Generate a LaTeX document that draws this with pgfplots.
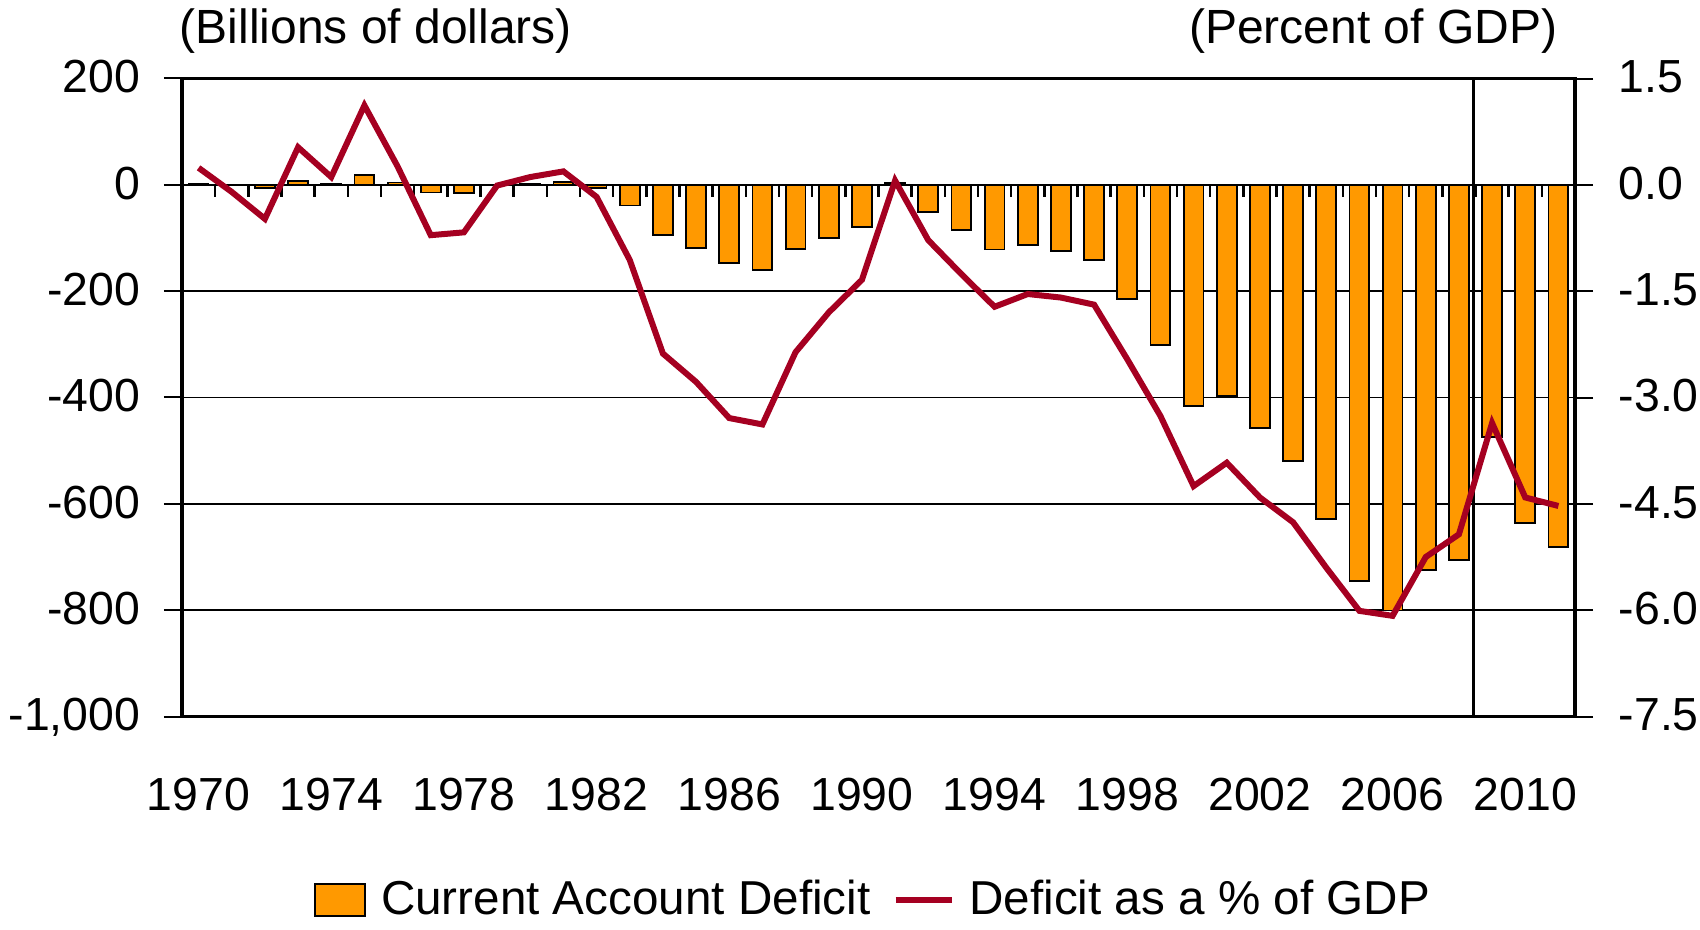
\documentclass[border=0pt]{standalone}
\usepackage{fontspec}
\setmainfont{Liberation Sans}
\usepackage{pgfplots}
\usepackage{pgfplotstable}
\pgfplotsset{compat=1.18}
\definecolor{barorange}{HTML}{FF9900}
\definecolor{linered}{HTML}{A50021}
\newcommand\cf{\fontsize{11.6pt}{14pt}\selectfont}
\newcommand\tf{\fontsize{12pt}{14pt}\selectfont}

\pgfplotsset{
  barleg/.style={legend image code/.code={\draw[##1] (0pt,-4pt) rectangle (12.5pt,4pt);}},
  lineleg/.style={legend image code/.code={\draw[##1] (0pt,0pt) -- (14pt,0pt);}},
  common/.style={
    scale only axis,
    width=348.25pt, height=159.5pt,
    xmin=1969.5, xmax=2011.5,
    axis line style={line width=0.8pt},
    tick align=outside,
    major tick length=4.5pt,
    tick style={black, line width=0.5pt},
  },
}

% current account balance, billions of dollars
\pgfplotstableread{
year value
1970 2.3
1971 -1.4
1972 -5.8
1973 7.1
1974 2.0
1975 18.1
1976 4.3
1977 -14.3
1978 -15.1
1979 -0.3
1980 2.3
1981 5.0
1982 -5.5
1983 -38.7
1984 -94.3
1985 -118.2
1986 -147.2
1987 -160.7
1988 -121.2
1989 -99.5
1990 -79.0
1991 2.9
1992 -51.6
1993 -84.8
1994 -121.6
1995 -113.6
1996 -124.8
1997 -140.7
1998 -215.1
1999 -301.6
2000 -416.3
2001 -396.6
2002 -457.8
2003 -519.1
2004 -628.8
2005 -745.4
2006 -800.6
2007 -724
2008 -705
2009 -474.5
2010 -636
2011 -681
}\cadata

% balance as percent of GDP
\pgfplotstableread{
year pct
1970 0.24
1971 -0.10
1972 -0.48
1973 0.53
1974 0.11
1975 1.12
1976 0.26
1977 -0.71
1978 -0.67
1979 -0.01
1980 0.11
1981 0.19
1982 -0.17
1983 -1.06
1984 -2.38
1985 -2.78
1986 -3.29
1987 -3.38
1988 -2.36
1989 -1.80
1990 -1.34
1991 0.06
1992 -0.78
1993 -1.26
1994 -1.72
1995 -1.54
1996 -1.59
1997 -1.69
1998 -2.46
1999 -3.26
2000 -4.25
2001 -3.92
2002 -4.41
2003 -4.76
2004 -5.40
2005 -6.01
2006 -6.08
2007 -5.25
2008 -4.93
2009 -3.36
2010 -4.41
2011 -4.53
}\pctdata

\begin{document}
\begin{tikzpicture}
\begin{axis}[
  common,
  clip=false,
  ymin=-1000, ymax=200,
  xtick={1970,1974,...,2010},
  xticklabels={1970,1974,1978,1982,1986,1990,1994,1998,2002,2006,2010},
  xtick style={draw=none},
  xtick pos=bottom,
  ytick={-1000,-800,...,200},
  yticklabels={-1{,}000,-800,-600,-400,-200,0,200},
  ytick pos=left,
  ymajorgrids,
  major grid style={black, line width=0.35pt},
  yticklabel style={anchor=east, inner sep=0pt, text height=0.72em, text depth=0pt, font=\cf, xshift=-5.75pt},
  xticklabel style={anchor=north, inner sep=0pt, text height=0.72em, text depth=0pt, font=\cf, yshift=-11.6pt},
]
\addplot[ybar, bar width=0.6, bar shift=0pt, fill=barorange, draw=black, line width=0.45pt]
  table[x=year, y=value] {\cadata};
% year boundary ticks on the zero line
\pgfplotsinvokeforeach{1970,...,2010}{
  \draw[black, line width=0.6pt] (axis cs:#1.5,0) -- ([yshift=-3pt]axis cs:#1.5,0);
}
\draw[black, line width=0.7pt] (axis cs:2008.45,-1000) -- (axis cs:2008.45,200);
\node[font=\tf, anchor=base west, inner sep=0pt] at ([xshift=-0.75pt, yshift=8.7pt]rel axis cs:0,1) {(Billions of dollars)};
\node[font=\tf, anchor=base east, inner sep=0pt] at ([xshift=-4.25pt, yshift=8.7pt]rel axis cs:1,1) {(Percent of GDP)};
\end{axis}

\begin{axis}[
  common,
  ymin=-7.5, ymax=1.5,
  axis x line=none,
  axis y line*=right,
  ytick={-7.5,-6,-4.5,-3,-1.5,0,1.5},
  yticklabels={-7.5,-6.0,-4.5,-3.0,-1.5,0.0,1.5},
  yticklabel style={anchor=west, inner sep=0pt, text height=0.72em, text depth=0pt, font=\cf, xshift=6.25pt},
  legend style={
    at={(0.4953,-0.2876)}, anchor=center,
    draw=none, fill=none,
    legend columns=2,
    font=\fontsize{11.9pt}{14pt}\selectfont,
    inner sep=0pt,
    nodes={inner sep=0pt},
    /tikz/every odd column/.append style={column sep=3.75pt},
    /tikz/every even column/.append style={column sep=5.5pt},
    /tikz/column 3/.style={column sep=2.75pt},
  },
]
\addlegendimage{fill=barorange, draw=black, line width=0.5pt, barleg}
\addlegendentry{Current Account Deficit}
\addplot[linered, line width=1.5pt, lineleg]
  table[x=year, y=pct] {\pctdata};
\addlegendentry{Deficit as a \% of GDP}
\end{axis}
\pgfresetboundingbox
\useasboundingbox (-45.5pt,-53.375pt) rectangle (379.5pt,179.125pt);
\end{tikzpicture}
\end{document}
